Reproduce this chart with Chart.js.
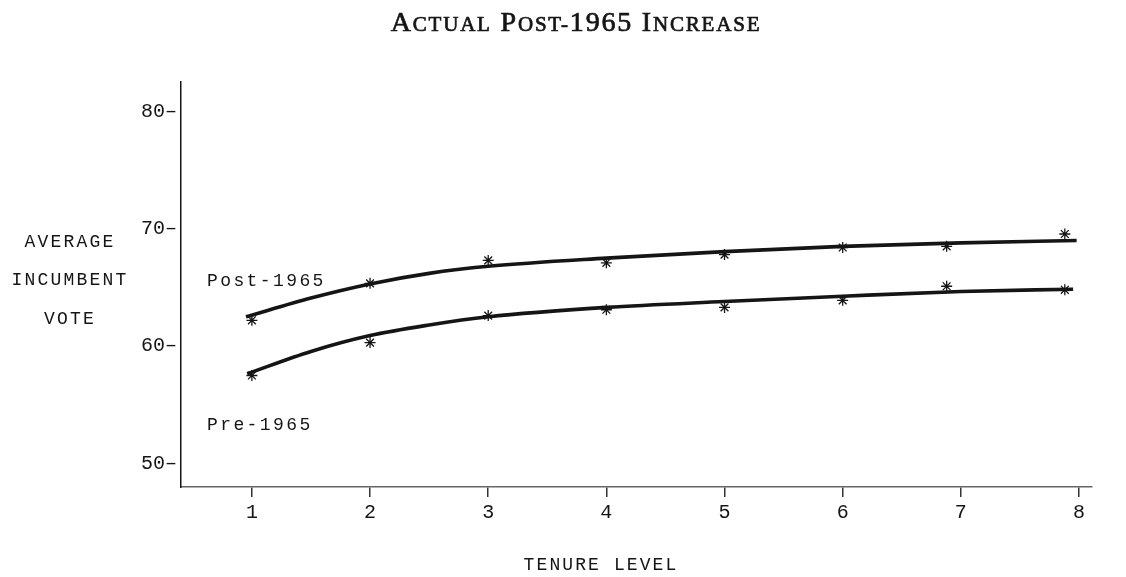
<!DOCTYPE html>
<html>
<head>
<meta charset="utf-8">
<script src="https://cdn.jsdelivr.net/npm/chart.js"></script>
<style>
  html, body { margin: 0; padding: 0; background: #fff; }
  canvas { display: block; }
</style>
</head>
<body>
<canvas id="tenureChart" width="1126" height="577"></canvas>
<script>
// observed averages (stars)
const tenure = [1, 2, 3, 4, 5, 6, 6.88, 7.88];
const post1965 = [62.2, 65.35, 67.3, 67.1, 67.8, 68.4, 68.5, 69.55];
const pre1965 = [57.5, 60.3, 62.6, 63.1, 63.3, 63.9, 65.1, 64.8];

// fitted curves
const postCurveX = [0.95, 1.5, 2, 2.5, 3, 4, 5, 6, 7, 7.98];
const postCurve = [62.5, 64.1, 65.3, 66.2, 66.8, 67.5, 68.05, 68.5, 68.8, 69.0];
const preCurveX = [0.96, 1.5, 2, 2.5, 3, 4, 5, 6, 7, 7.95];
const preCurve = [57.65, 59.55, 60.9, 61.8, 62.5, 63.3, 63.8, 64.25, 64.65, 64.85];

const xTicks = [1, 2, 3, 4, 5, 6, 7, 8];
const yTicks = [50, 60, 70, 80];

const ink = '#151515';
const mono = '"Liberation Mono", "DejaVu Sans Mono", monospace';
const serif = '"Liberation Serif", "DejaVu Serif", serif';

const toPoints = (xs, ys) => xs.map((x, i) => ({ x: x, y: ys[i] }));

// texte dessiné à la main : titre en petites capitales, titres d'axes, étiquettes
const annotations = {
    id: 'annotations',
    afterDraw(chart) {
        const ctx = chart.ctx;
        const xs = chart.scales.x;
        const ys = chart.scales.y;
        ctx.save();
        ctx.fillStyle = ink;
        ctx.strokeStyle = ink;

        // titre
        const big = 'normal 28px ' + serif;
        const small = 'normal 21px ' + serif;
        const parts = [
            ['A', big], ['CTUAL', small], [' ', big],
            ['P', big], ['OST-', small], ['1965', big], [' ', big],
            ['I', big], ['NCREASE', small]
        ];
        ctx.letterSpacing = '1.8px';
        ctx.textBaseline = 'alphabetic';
        ctx.textAlign = 'left';
        ctx.lineWidth = 0.7;
        let total = 0;
        parts.forEach(p => { ctx.font = p[1]; total += ctx.measureText(p[0]).width; });
        let cx = 576 - total / 2;
        parts.forEach(p => {
            ctx.font = p[1];
            ctx.fillText(p[0], cx, 31);
            ctx.strokeText(p[0], cx, 31);
            cx += ctx.measureText(p[0]).width;
        });

        // axe y
        ctx.font = '18px ' + mono;
        ctx.letterSpacing = '2.2px';
        ctx.textAlign = 'center';
        ctx.textBaseline = 'middle';
        ['AVERAGE', 'INCUMBENT', 'VOTE'].forEach((t, i) => {
            ctx.fillText(t, 70, 242 + i * 38.5);
        });

        // axe x
        ctx.letterSpacing = '2.1px';
        ctx.fillText('TENURE LEVEL', 601, 565);

        // étiquettes des séries
        ctx.letterSpacing = '2.4px';
        ctx.textAlign = 'left';
        ctx.fillText('Post-1965', xs.getPixelForValue(0.62), ys.getPixelForValue(65.5));
        ctx.fillText('Pre-1965', xs.getPixelForValue(0.62), ys.getPixelForValue(53.3));
        ctx.restore();
    }
};

const curveStyle = {
    type: 'line',
    borderColor: ink,
    borderWidth: 3.6,
    pointRadius: 0,
    fill: false,
    cubicInterpolationMode: 'monotone'
};

const starStyle = {
    type: 'scatter',
    showLine: false,
    pointStyle: 'star',
    pointRadius: 5.5,
    pointBorderWidth: 1.3,
    borderColor: ink,
    backgroundColor: ink
};

new Chart(document.getElementById('tenureChart'), {
    data: {
        datasets: [
            Object.assign({ label: 'Post-1965 fit', data: toPoints(postCurveX, postCurve) }, curveStyle),
            Object.assign({ label: 'Pre-1965 fit', data: toPoints(preCurveX, preCurve) }, curveStyle),
            Object.assign({ label: 'Post-1965', data: toPoints(tenure, post1965) }, starStyle),
            Object.assign({ label: 'Pre-1965', data: toPoints(tenure, pre1965) }, starStyle)
        ]
    },
    options: {
        responsive: false,
        animation: false,
        layout: {
            padding: { left: 0, top: 82, right: 34, bottom: 0 }
        },
        plugins: {
            legend: { display: false },
            tooltip: { enabled: false },
            title: { display: false }
        },
        scales: {
            x: {
                type: 'linear',
                min: 0.4,
                max: 8.11,
                afterFit: s => { s.height = 90; },
                afterBuildTicks: s => { s.ticks = xTicks.map(v => ({ value: v })); },
                border: { display: true, color: '#666', width: 1.5 },
                grid: {
                    drawOnChartArea: false,
                    drawTicks: true,
                    tickLength: 10,
                    color: '#333',
                    lineWidth: 1.5
                },
                ticks: {
                    padding: 4,
                    color: ink,
                    font: { family: mono, size: 20 },
                    callback: v => String(v)
                }
            },
            y: {
                type: 'linear',
                min: 48,
                max: 82.5,
                afterFit: s => { s.width = 181; },
                afterBuildTicks: s => { s.ticks = yTicks.map(v => ({ value: v })); },
                border: { display: true, color: ink, width: 1.5 },
                grid: { display: false, drawTicks: false },
                ticks: {
                    padding: 4,
                    color: ink,
                    font: { family: mono, size: 20 },
                    callback: v => v + '–'
                }
            }
        }
    },
    plugins: [annotations]
});
</script>
</body>
</html>
